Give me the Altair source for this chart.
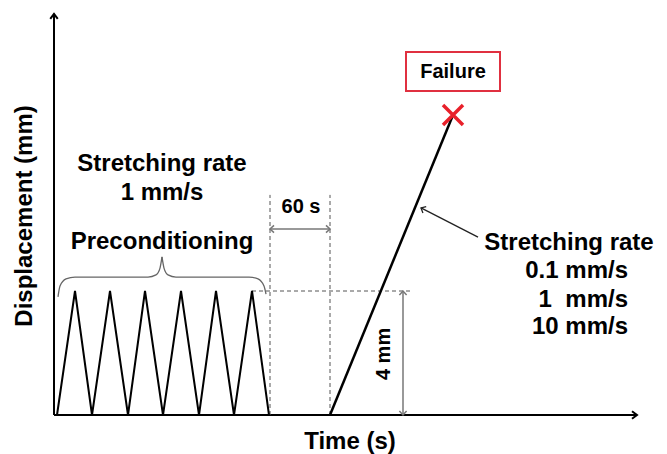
import altair as alt
import pandas as pd

# ---- schematic values (time in arbitrary schematic units, displacement in mm) ----
# preconditioning cycles (1 mm/s, 4 mm amplitude)
cycle_time = [3, 21, 38, 56, 74, 91, 109, 127, 145, 162, 180, 198, 215]
cycle_disp = [0, 4, 0, 4, 0, 4, 0, 4, 0, 4, 0, 4, 0]

# final stretch to failure
ramp_time = [276, 399]
ramp_disp = [0, 9.68]

# failure marker and label box
fail_time = [399]
fail_disp = [9.68]
box_t = [352, 446]
box_d = [10.45, 11.71]

# axes (with arrow tips)
axis_x0 = [0, 0]
axis_y0 = [0, 0]
axis_x1 = [583, 0]
axis_y1 = [0, 12.94]
axis_tip_angle = [0, 270]

# dashed guide lines
guide_x0 = [216, 276, 198]
guide_y0 = [0, 0, 4]
guide_x1 = [216, 276, 358]
guide_y1 = [7.1, 7.1, 4]

# dimension arrows: 60 s rest and 4 mm amplitude (double headed)
dim_x0 = [216, 349]
dim_y0 = [6.0, 0]
dim_x1 = [276, 349]
dim_y1 = [6.0, 4]

# annotation arrow pointing to the ramp
ann_x0 = [424]
ann_y0 = [5.74]
ann_x1 = [367]
ann_y1 = [6.68]

# brace over the preconditioning cycles (two halves)
brace_left_t = [4, 6, 12, 21, 94, 102, 106, 108]
brace_left_d = [3.81, 4.16, 4.39, 4.45, 4.45, 4.52, 4.74, 5.1]
brace_right_t = [108, 110, 114, 122, 195, 204, 210, 212]
brace_right_d = [5.1, 4.74, 4.52, 4.45, 4.45, 4.39, 4.16, 3.9]

# texts
big_text = ["Stretching rate", "1 mm/s", "Preconditioning", "Stretching rate"]
big_t = [108, 108, 108, 515]
big_d = [8.1, 7.16, 5.58, 5.55]

rate_text = ["0.1 mm/s", "1\u00a0\u00a0mm/s", "10 mm/s"]
rate_t = [574, 574, 574]
rate_d = [4.65, 3.71, 2.84]

small_text = ["60 s", "Failure"]
small_t = [247, 399]
small_d = [6.71, 11.06]

FONT = "Liberation Sans"
BIG = 24
xs = alt.Scale(domain=[-46, 605], nice=False, zero=False)
ys = alt.Scale(domain=[-1.258, 13.129], nice=False, zero=False)


def X(f="x"):
    return alt.X(f"{f}:Q", scale=xs, axis=None)


def Y(f="y"):
    return alt.Y(f"{f}:Q", scale=ys, axis=None)


layers = []

# axes
axes_df = pd.DataFrame({"x": axis_x0, "y": axis_y0, "x2": axis_x1, "y2": axis_y1, "a": axis_tip_angle})
layers.append(alt.Chart(axes_df).mark_rule(color="black", strokeWidth=2).encode(
    x=X(), y=Y(), x2="x2:Q", y2="y2:Q"))
layers.append(alt.Chart(axes_df).mark_point(
    shape="M-1,-0.75L0,0L-1,0.75", filled=False, color="black", strokeWidth=2, size=100, opacity=1
).encode(x=X("x2"), y=Y("y2"), angle=alt.Angle("a:Q", scale=None)))

# dashed guides
guide_df = pd.DataFrame({"x": guide_x0, "y": guide_y0, "x2": guide_x1, "y2": guide_y1})
layers.append(alt.Chart(guide_df).mark_rule(color="#555555", strokeWidth=1, strokeDash=[4, 3]).encode(
    x=X(), y=Y(), x2="x2:Q", y2="y2:Q"))

# preconditioning cycles
cyc_df = pd.DataFrame({"x": cycle_time, "y": cycle_disp, "o": list(range(len(cycle_time)))})
layers.append(alt.Chart(cyc_df).mark_line(color="black", strokeWidth=2).encode(
    x=X(), y=Y(), order="o:Q"))

# ramp to failure
ramp_df = pd.DataFrame({"x": [ramp_time[0]], "y": [ramp_disp[0]], "x2": [ramp_time[1]], "y2": [ramp_disp[1]]})
layers.append(alt.Chart(ramp_df).mark_rule(color="black", strokeWidth=2.5).encode(
    x=X(), y=Y(), x2="x2:Q", y2="y2:Q"))

# brace
brace_df = pd.DataFrame({
    "x": brace_left_t + brace_right_t,
    "y": brace_left_d + brace_right_d,
    "half": ["L"] * len(brace_left_t) + ["R"] * len(brace_right_t),
    "o": list(range(len(brace_left_t))) + list(range(len(brace_right_t))),
})
layers.append(alt.Chart(brace_df).mark_line(color="#666666", strokeWidth=1.3, interpolate="monotone").encode(
    x=X(), y=Y(), detail="half:N", order="o:Q"))

# dimension arrows
dim_df = pd.DataFrame({"x": dim_x0, "y": dim_y0, "x2": dim_x1, "y2": dim_y1})
layers.append(alt.Chart(dim_df).mark_rule(color="#777777", strokeWidth=1.5).encode(
    x=X(), y=Y(), x2="x2:Q", y2="y2:Q"))
tips_df = pd.DataFrame({
    "x": dim_x0 + dim_x1,
    "y": dim_y0 + dim_y1,
    "a": [180, 90, 0, 270],
})
layers.append(alt.Chart(tips_df).mark_point(
    shape="M-1,-0.9L0,0L-1,0.9", filled=False, color="#777777", strokeWidth=1.5, size=64, opacity=1
).encode(x=X(), y=Y(), angle=alt.Angle("a:Q", scale=None)))

# annotation arrow
ann_df = pd.DataFrame({"x": ann_x0, "y": ann_y0, "x2": ann_x1, "y2": ann_y1})
layers.append(alt.Chart(ann_df).mark_rule(color="#222222", strokeWidth=1.3).encode(
    x=X(), y=Y(), x2="x2:Q", y2="y2:Q"))
layers.append(alt.Chart(pd.DataFrame({"x": ann_x1, "y": ann_y1, "a": [207]})).mark_point(
    shape="M-1,-0.9L0,0L-1,0.9", filled=False, color="#222222", strokeWidth=1.3, size=64, opacity=1
).encode(x=X(), y=Y(), angle=alt.Angle("a:Q", scale=None)))

# failure box
box_df = pd.DataFrame({"x": [box_t[0]], "x2": [box_t[1]], "y": [box_d[0]], "y2": [box_d[1]]})
layers.append(alt.Chart(box_df).mark_rect(fill="white", stroke="#e03040", strokeWidth=2).encode(
    x=X(), x2="x2:Q", y=Y(), y2="y2:Q"))

# failure cross
layers.append(alt.Chart(pd.DataFrame({"x": fail_time, "y": fail_disp})).mark_point(
    shape="M-1,-1L1,1M-1,1L1,-1", filled=False, color="#e8202a", strokeWidth=3.5, size=400, opacity=1
).encode(x=X(), y=Y()))

# texts
big_df = pd.DataFrame({"x": big_t, "y": big_d, "t": big_text})
layers.append(alt.Chart(big_df).mark_text(font=FONT, fontWeight="bold", fontSize=BIG, color="black",
                                          align="center", baseline="middle").encode(
    x=X(), y=Y(), text="t:N"))
rate_df = pd.DataFrame({"x": rate_t, "y": rate_d, "t": rate_text})
layers.append(alt.Chart(rate_df).mark_text(font=FONT, fontWeight="bold", fontSize=BIG, color="black",
                                           align="right", baseline="middle").encode(
    x=X(), y=Y(), text="t:N"))
small_df = pd.DataFrame({"x": small_t, "y": small_d, "t": small_text})
layers.append(alt.Chart(small_df).mark_text(font=FONT, fontWeight="bold", fontSize=20, color="black",
                                            align="center", baseline="middle").encode(
    x=X(), y=Y(), text="t:N"))
layers.append(alt.Chart(pd.DataFrame({"x": [330], "y": [1.97], "t": ["4 mm"]})).mark_text(
    font=FONT, fontWeight="bold", fontSize=20, color="black", align="center", baseline="middle", angle=270
).encode(x=X(), y=Y(), text="t:N"))

# axis titles
layers.append(alt.Chart(pd.DataFrame({"x": [296], "y": [-0.87], "t": ["Time (s)"]})).mark_text(
    font=FONT, fontWeight="bold", fontSize=BIG, color="black", align="center", baseline="middle"
).encode(x=X(), y=Y(), text="t:N"))
layers.append(alt.Chart(pd.DataFrame({"x": [-29], "y": [6.42], "t": ["Displacement (mm)"]})).mark_text(
    font=FONT, fontWeight="bold", fontSize=BIG, color="black", align="center", baseline="middle", angle=270
).encode(x=X(), y=Y(), text="t:N"))

chart = alt.layer(*layers).properties(
    width=651, height=446, autosize="none", padding=0, background="white"
).configure_view(stroke=None)

chart.save("out.html", embed_options={"renderer": "svg", "actions": False})
